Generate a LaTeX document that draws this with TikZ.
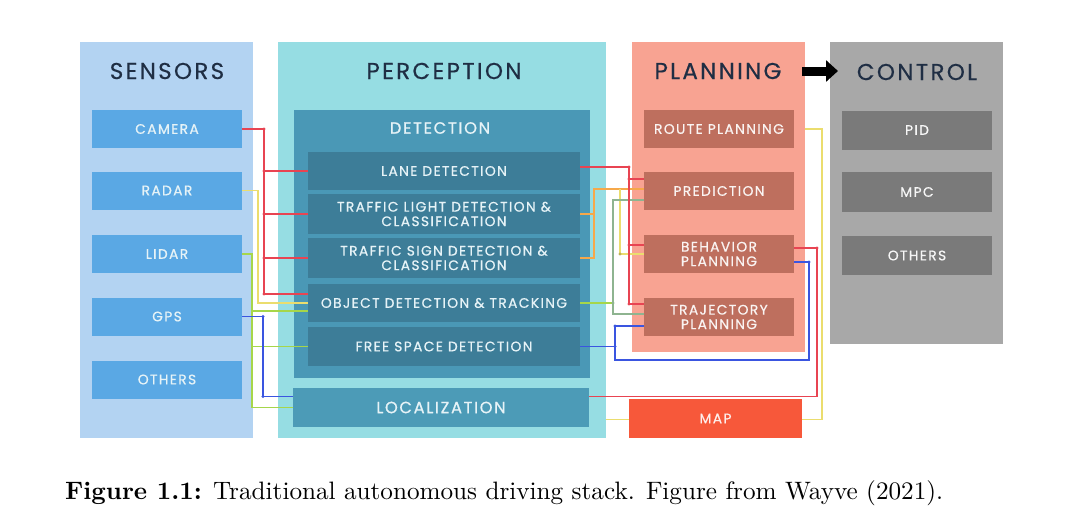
\documentclass[tikz,border=0pt]{standalone}
\usepackage{fontspec}
\usepackage{graphicx}
\usetikzlibrary{calc,arrows.meta}
\newfontfamily\dfont[LetterSpace=10,FakeBold=0.7]{Poppins}
\newfontfamily\tfont[LetterSpace=10,FakeBold=0.4]{Poppins}
\definecolor{csensor}{HTML}{B3D3F2}
\definecolor{csbox}{HTML}{5AA8E4}
\definecolor{cperc}{HTML}{96DDE3}
\definecolor{cdet}{HTML}{4A98B6}
\definecolor{cdetin}{HTML}{3D7D98}
\definecolor{cloc}{HTML}{4C9BB7}
\definecolor{cplan}{HTML}{F8A392}
\definecolor{cpbox}{HTML}{BE6F5E}
\definecolor{cmap}{HTML}{F7583A}
\definecolor{cctrl}{HTML}{A8A8A8}
\definecolor{ccbox}{HTML}{7A7A7A}
\definecolor{ctitle}{HTML}{1F2E44}
\definecolor{ctext}{HTML}{E6F3F7}
\definecolor{cred}{HTML}{E84452}
\definecolor{cyellow}{HTML}{EBDD6E}
\definecolor{corange}{HTML}{F6A84A}
\definecolor{clime}{HTML}{A6D64A}
\definecolor{cgreen}{HTML}{8EB490}
\definecolor{cblue}{HTML}{3A55E0}
\pgfdeclarelayer{bg}
\pgfsetlayers{bg,main}
\begin{document}
\begin{tikzpicture}[x=1pt,y=-1pt,
  panel/.style={rectangle,inner sep=0pt,outer sep=0pt},
  paneltitle/.style={text=ctitle,font=\tfont\fontsize{23}{27}\selectfont,inner sep=0pt},
  boxtxt/.style={rectangle,inner sep=0pt,outer sep=0pt,align=center,text=ctext,
    font=\dfont\fontsize{13.8}{14.5}\selectfont},
  sbox/.style={boxtxt,fill=csbox,minimum width=150pt,minimum height=38pt},
  dbox/.style={boxtxt,fill=cdetin,minimum width=272pt},
  pbox/.style={boxtxt,fill=cpbox,minimum width=150pt,minimum height=38pt,text=white!92!cpbox},
  cbox/.style={boxtxt,fill=ccbox,minimum width=150pt,minimum height=39pt,text=white!93!ccbox},
  conn/.style={line width=1.1pt},
  jdot/.style={radius=1.7pt}
]
\useasboundingbox (0,0) rectangle (1080,514);

% panels
\node[panel,fill=csensor,minimum width=173pt,minimum height=396pt] (sensors) at (166.5,240) {};
\node[panel,fill=cperc,minimum width=328pt,minimum height=396pt] (perception) at (442,240) {};
\node[panel,fill=cplan,minimum width=173pt,minimum height=310pt] (planning) at (718.5,197) {};
\node[panel,fill=cctrl,minimum width=173pt,minimum height=302pt] (control) at (916.5,193) {};

% titles
\node[paneltitle] (tsens) at (167,71) {SENSORS};
\node[paneltitle] (tperc) at (444,71) {PERCEPTION};
\node[paneltitle] (tplan) at (718,71) {PLANNING};
\node[paneltitle] (tctrl) at (917,72) {CONTROL};

% sensors
\node[sbox] (camera) at (167,129) {CAMERA};
\node[sbox] (radar) at (167,190.5) {RADAR};
\node[sbox] (lidar) at (167,254) {LIDAR};
\node[sbox] (gps) at (167,316.5) {GPS};
\node[sbox] (sothers) at (167,379.5) {OTHERS};

% perception
\node[panel,fill=cdet,minimum width=296pt,minimum height=268pt] (detection) at (442,244) {};
\node[boxtxt,font=\dfont\fontsize{16.4}{18}\selectfont] (tdet) at (440,128) {DETECTION};
\node[dbox,minimum height=38pt] (lane) at (444,171) {LANE DETECTION};
\node[dbox,minimum height=40pt] (tlight) at (444,214) {TRAFFIC LIGHT DETECTION \&\\CLASSIFICATION};
\node[dbox,minimum height=40pt] (tsign) at (444,258) {TRAFFIC SIGN DETECTION \&\\CLASSIFICATION};
\node[dbox,minimum height=38pt] (objdet) at (444,303) {OBJECT DETECTION \& TRACKING};
\node[dbox,minimum height=39pt] (free) at (444,346.5) {FREE SPACE DETECTION};
\node[boxtxt,fill=cloc,minimum width=296pt,minimum height=39pt,font=\dfont\fontsize{16.3}{18}\selectfont] (loc) at (441,407.5) {LOCALIZATION};

% planning
\node[pbox] (route) at (719,129) {ROUTE PLANNING};
\node[pbox] (pred) at (719,191) {PREDICTION};
\node[pbox] (beh) at (719,254) {BEHAVIOR\\PLANNING};
\node[pbox] (traj) at (719,317) {TRAJECTORY\\PLANNING};
\node[boxtxt,fill=cmap,minimum width=173pt,minimum height=39pt,text=white!90!cmap] (map) at (715.5,418.5) {MAP};

% control
\node[cbox] (pid) at (917,130) {PID};
\node[cbox,minimum height=40pt] (mpc) at (917,192) {MPC};
\node[cbox] (cothers) at (917,255.5) {OTHERS};

% caption
\node[inner sep=0pt,anchor=west] (caption) at (65,493)
  {\resizebox{878pt}{!}{\textbf{Figure 1.1:} Traditional autonomous driving stack. Figure from Wayve (2021).}};

% bus x-positions
\coordinate (xR) at (264,0);
\coordinate (xY) at (258,0);
\coordinate (xG) at (252,0);
\coordinate (xB) at (263,0);
\coordinate (xR2) at (629,0);
\coordinate (xO) at (594,0);
\coordinate (xY2) at (620,0);
\coordinate (xG2) at (613,0);
\coordinate (xB2) at (615,0);
\coordinate (xB3) at (809,0);
\coordinate (xR3) at (817,0);
\coordinate (xY3) at (822,0);
\coordinate (yb) at (0,360);

% background connector (hidden behind panels)
\begin{pgfonlayer}{bg}
\fill[white] (0,0) rectangle (1080,514);
\draw[conn,cyellow] ([yshift=-12pt]loc.east) -| (route.east -| xY3) -- (route.east);
\end{pgfonlayer}

% left connectors
\draw[conn,cyellow] (radar.east) -| (objdet.west -| xY) -- (objdet.west);
\draw[conn,clime] (lidar.east) -| (loc.west -| xG) -- (loc.west);
\draw[conn,clime] ([yshift=-8pt]objdet.west -| xG) -- ([yshift=-8pt]objdet.west);
\draw[conn,clime] (free.west -| xG) -- (free.west);
\draw[conn,cred] (camera.east) -| ([yshift=9pt]objdet.west -| xR) -- ([yshift=9pt]objdet.west);
\draw[conn,cred] (lane.west -| xR) -- (lane.west);
\draw[conn,cred] (tlight.west -| xR) -- (tlight.west);
\draw[conn,cred] (tsign.west -| xR) -- (tsign.west);
\draw[conn,cblue] (gps.east) -| ([yshift=11pt]loc.west -| xB) -- ([yshift=11pt]loc.west);
\fill[cred] (camera.east -| xR) circle[jdot] (lane.west -| xR) circle[jdot]
  (tlight.west -| xR) circle[jdot] (tsign.west -| xR) circle[jdot]
  ([yshift=9pt]objdet.west -| xR) circle[jdot];
\fill[cblue] (gps.east -| xB) circle[jdot] ([yshift=11pt]loc.west -| xB) circle[jdot];

% right connectors
\draw[conn,corange] (tsign.east) -| ([yshift=2pt]pred.west -| xO) -- ([yshift=2pt]pred.west);
\draw[conn,corange] (tlight.east) -- (tlight.east -| xO);
\draw[conn,cyellow] ([yshift=2pt]pred.west -| xY2) |- (beh.west);
\draw[conn,cgreen] ([yshift=-9pt]pred.west) -| ([yshift=3pt]traj.west -| xG2) -- ([yshift=3pt]traj.west);
\draw[conn,clime] (objdet.east) -- (objdet.east -| xG2);
\draw[conn,cblue] ([yshift=-9pt]traj.west) -| (xB2 |- yb) -| ([yshift=-8pt]beh.east -| xB3) -- ([yshift=-8pt]beh.east);
\draw[conn,cblue] (free.east) -- (free.east -| xB2);
\draw[conn,cred] ([yshift=4pt]lane.east) -| ([yshift=13pt]traj.west -| xR2) -- ([yshift=13pt]traj.west);
\draw[conn,cred] ([yshift=12pt]pred.west -| xR2) -- ([yshift=12pt]pred.west);
\draw[conn,cred] ([yshift=9pt]beh.west -| xR2) -- ([yshift=9pt]beh.west);
\draw[conn,cred] ([yshift=11pt]loc.east) -| ([yshift=6pt]beh.east -| xR3) -- ([yshift=6pt]beh.east);
\fill[cred] ([yshift=4pt]lane.east -| xR2) circle[jdot] ([yshift=12pt]pred.west -| xR2) circle[jdot]
  ([yshift=9pt]beh.west -| xR2) circle[jdot] ([yshift=13pt]traj.west -| xR2) circle[jdot]
  ([yshift=6pt]beh.east -| xR3) circle[jdot];
\fill[cyellow!80!black] (beh.west -| xY2) circle[jdot];
\fill[cgreen] (objdet.east -| xG2) circle[jdot];
\fill[cblue] ([yshift=-9pt]traj.west -| xB2) circle[jdot] (free.east -| xB2) circle[jdot]
  ([yshift=-8pt]beh.east -| xB3) circle[jdot];

% planning -> control arrow
\draw[line width=9pt,-{Triangle[length=12pt,width=21pt]}]
  ([xshift=-3pt]planning.east |- tplan.center) -- ([xshift=8pt]control.west |- tplan.center);
\end{tikzpicture}
\end{document}
